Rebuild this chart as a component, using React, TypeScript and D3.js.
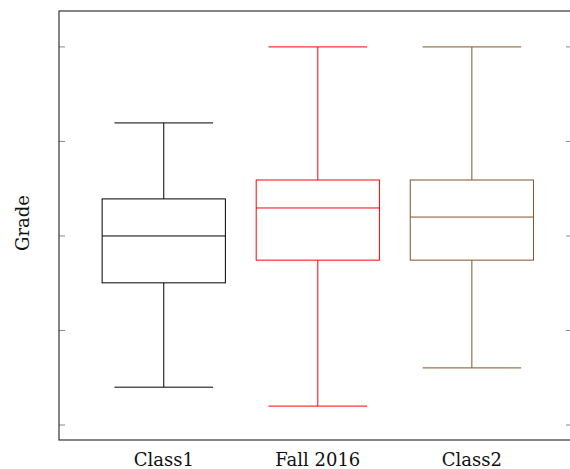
import React from 'react';
import * as d3 from 'd3';

// box plot data
const categories = ['Class1', 'Fall 2016', 'Class2'];
const lowerWhisker = [10, 5, 15.1];
const lowerQuartile = [37.6, 43.6, 43.6];
const medians = [50, 57.4, 55];
const upperQuartile = [59.8, 64.8, 64.8];
const upperWhisker = [79.9, 100, 100];
const colors = ['#000000', '#ff0000', '#7f552c'];
const yTicks = [0, 25, 50, 75, 100];

const W = 570;
const H = 469;
const left = 59;
const right = 572;
const top = 11;
const bottom = 440;

const App: React.FC = () => {
  const x = d3.scaleLinear().domain([0.32, 3.65]).range([left, right]);
  const y = d3.scaleLinear().domain([-3.97, 109.5]).range([bottom, top]);
  const boxHalf = (x(0.4) - x(0));
  const capHalf = (x(0.32) - x(0));

  return (
    <svg width={W} height={H} style={{ position: 'absolute', left: 0, top: 0 }}>
      {/* ticks */}
      {yTicks.map((t) => (
        <g key={t} stroke="#888" strokeWidth={1}>
          <line x1={left} x2={left + 6} y1={y(t)} y2={y(t)} />
          <line x1={right - 6} x2={right} y1={y(t)} y2={y(t)} />
        </g>
      ))}
      {categories.map((c, i) => {
        const cx = x(i + 1);
        const col = colors[i];
        return (
          <g key={c} stroke={col} strokeWidth={1} fill="none">
            <line x1={cx} x2={cx} y1={y(upperWhisker[i])} y2={y(upperQuartile[i])} />
            <line x1={cx} x2={cx} y1={y(lowerQuartile[i])} y2={y(lowerWhisker[i])} />
            <line x1={cx - capHalf} x2={cx + capHalf} y1={y(upperWhisker[i])} y2={y(upperWhisker[i])} />
            <line x1={cx - capHalf} x2={cx + capHalf} y1={y(lowerWhisker[i])} y2={y(lowerWhisker[i])} />
            <rect
              x={cx - boxHalf}
              y={y(upperQuartile[i])}
              width={boxHalf * 2}
              height={y(lowerQuartile[i]) - y(upperQuartile[i])}
            />
            <line x1={cx - boxHalf} x2={cx + boxHalf} y1={y(medians[i])} y2={y(medians[i])} />
          </g>
        );
      })}
      <rect x={left} y={top} width={right - left} height={bottom - top} fill="none" stroke="#333" strokeWidth={1.2} />
      {categories.map((c, i) => (
        <text
          key={c}
          x={x(i + 1)}
          y={466}
          textAnchor="middle"
          fontFamily="'DejaVu Serif', serif"
          fontSize={18}
          fill="#111"
        >
          {c}
        </text>
      ))}
      <text
        transform={`translate(29, 223) rotate(-90)`}
        textAnchor="middle"
        fontFamily="'DejaVu Serif', serif"
        fontSize={18}
        fill="#111"
      >
        Grade
      </text>
    </svg>
  );
};

export default App;
